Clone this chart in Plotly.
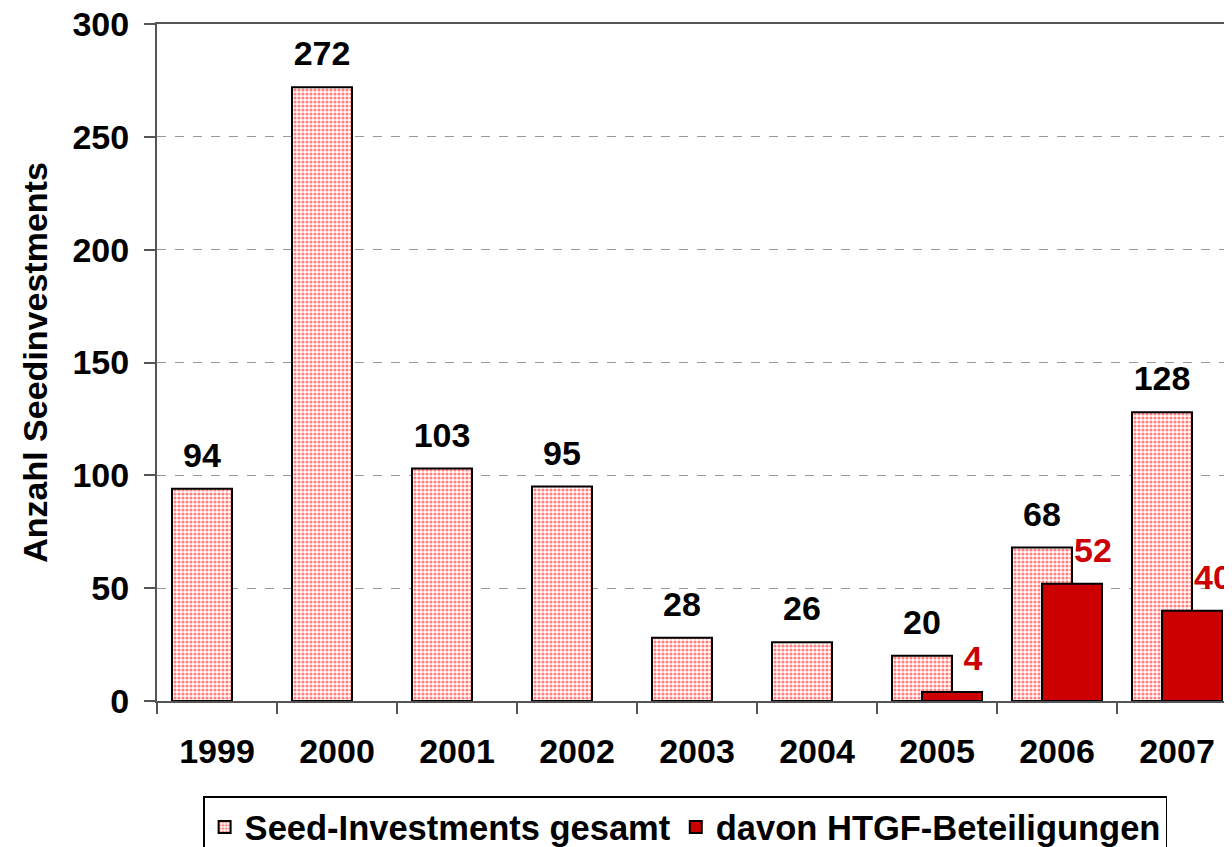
import plotly.graph_objects as go

years = ["1999", "2000", "2001", "2002", "2003", "2004", "2005", "2006", "2007"]
seed_total = [94, 272, 103, 95, 28, 26, 20, 68, 128]
htgf_years = ["2005", "2006", "2007"]
htgf_values = [4, 52, 40]
y_ticks = [0, 50, 100, 150, 200, 250, 300]

FONT = "Liberation Sans, Arial, sans-serif"
FS = 34

pos = {y: i for i, y in enumerate(years)}
seed_x = [pos[y] - 0.125 for y in years]
htgf_x = [pos[y] + 0.125 for y in htgf_years]

fig = go.Figure()
fig.add_trace(go.Bar(
    x=seed_x, y=seed_total, name="Seed-Investments gesamt", width=0.5,
    marker=dict(color="white",
                line=dict(color="black", width=2),
                pattern=dict(shape=".", fgcolor="#ff0000", bgcolor="white",
                             size=4, solidity=0.5, fillmode="overlay")),
))
fig.add_trace(go.Bar(
    x=htgf_x, y=htgf_values, name="davon HTGF-Beteiligungen", width=0.5,
    marker=dict(color="#cc0000", line=dict(color="black", width=2)),
))
# value labels
fig.add_trace(go.Scatter(
    x=seed_x, y=seed_total, mode="markers+text", text=[str(v) for v in seed_total],
    textposition="top center", showlegend=False, hoverinfo="skip",
    marker=dict(size=20, opacity=0),
    textfont=dict(family=FONT, size=FS, color="black", weight="bold"),
))
fig.add_trace(go.Scatter(
    x=[x + 0.175 for x in htgf_x], y=htgf_values, mode="markers+text",
    text=[str(v) for v in htgf_values],
    textposition="top center", showlegend=False, hoverinfo="skip",
    marker=dict(size=20, opacity=0),
    textfont=dict(family=FONT, size=FS, color="#cc0000", weight="bold"),
))

fig.update_layout(
    width=1232, height=847,
    margin=dict(l=149, r=3, t=16, b=154, autoexpand=False),
    barmode="overlay",
    plot_bgcolor="white", paper_bgcolor="white",
    font=dict(family=FONT, size=FS, color="black", weight="bold"),
    showlegend=True,
    legend=dict(orientation="h", x=0.489, xanchor="center", y=-0.141, yanchor="top",
                bordercolor="black", borderwidth=1.5, bgcolor="white",
                font=dict(family=FONT, size=34.5, color="black", weight="bold"),
                itemwidth=30, tracegroupgap=0),
)
fig.update_xaxes(
    range=[-0.5, 8.5], tickvals=list(range(len(years))), ticktext=years,
    showline=True, linecolor="#555555", linewidth=2, mirror=True,
    ticks="", ticklabelstandoff=19, automargin=False,
    minor=dict(tick0=0.5, dtick=1, ticks="outside", ticklen=11, tickwidth=2,
               tickcolor="#555555", showgrid=False),
    tickfont=dict(family=FONT, size=FS, color="black", weight="bold"),
    showgrid=False, zeroline=False,
)
fig.update_yaxes(
    range=[0, 300], tickvals=y_ticks, automargin=False,
    showline=True, linecolor="#555555", linewidth=2,
    ticks="outside", ticklen=11, tickwidth=2, tickcolor="#555555",
    ticklabelstandoff=8, ticklabeloverflow="allow",
    tickfont=dict(family=FONT, size=FS, color="black", weight="bold"),
    showgrid=True, gridcolor="#999999", griddash="dash", gridwidth=1,
    zeroline=False,
    title=dict(text="Anzahl Seedinvestments", standoff=15,
               font=dict(family=FONT, size=FS, color="black", weight="bold")),
)

fig.write_html("out.html")
